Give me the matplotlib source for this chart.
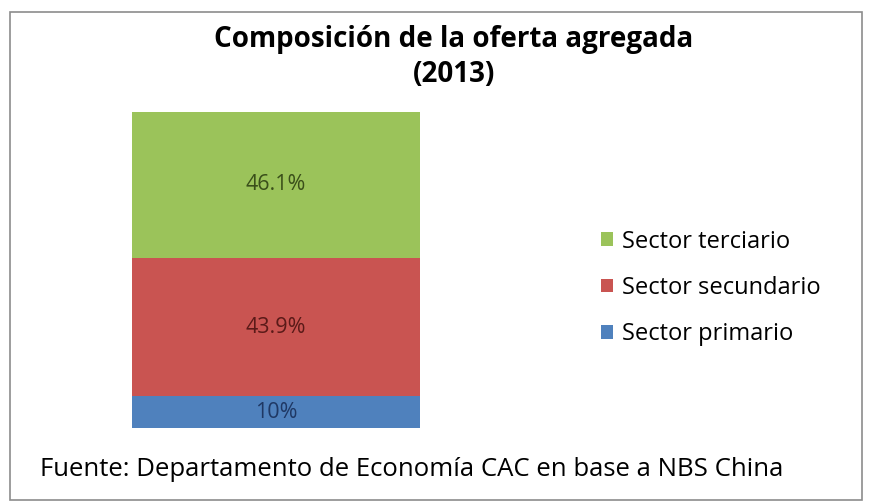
import matplotlib
matplotlib.use("Agg")
import matplotlib.pyplot as plt
from matplotlib.patches import Rectangle

# data, bottom to top
sectors = ["Sector primario", "Sector secundario", "Sector terciario"]
shares = [10.0, 43.9, 46.1]
labels = ["10%", "43.9%", "46.1%"]
colors = ["#4F81BD", "#C95451", "#9BC35A"]
label_colors = ["#1F3864", "#5A1A18", "#3A4F1A"]

plt.rcParams['font.family'] = ['Open Sans', 'DejaVu Sans']

fig = plt.figure(figsize=(8.73, 5.04), dpi=100)
fig.patch.set_facecolor("white")

# outer frame
fig.patches.append(Rectangle((10 / 873, 4 / 504), 852 / 873, 488 / 504,
                             transform=fig.transFigure, fill=False,
                             edgecolor="#8c8c8c", linewidth=1.2))

ax = fig.add_axes([132 / 873, 76 / 504, 288 / 873, 316 / 504])
bottom = 0
handles = []
for name, val, lab, col, lc in zip(sectors, shares, labels, colors, label_colors):
    b = ax.bar(0, val, width=1.0, bottom=bottom, color=col, edgecolor="none", label=name)
    handles.append(b)
    ax.text(0, bottom + val / 2, lab, ha="center", va="center",
            fontsize=15.5, color=lc)
    bottom += val
ax.set_xlim(-0.5, 0.5)
ax.set_ylim(0, sum(shares))
ax.axis("off")

fig.text(454 / 873, 1 - 40 / 504, "Composición de la oferta agregada",
         ha="center", va="center", fontsize=20, fontweight="bold")
fig.text(454 / 873, 1 - 75 / 504, "(2013)",
         ha="center", va="center", fontsize=20, fontweight="bold")

leg = fig.legend(handles[::-1], sectors[::-1], loc="center left",
                 bbox_to_anchor=(592 / 873, 1 - 288 / 504), frameon=False,
                 fontsize=17, handlelength=0.5, handleheight=0.5,
                 handletextpad=0.35, labelspacing=0.95, borderaxespad=0)

fig.text(40 / 873, 1 - 469 / 504,
         "Fuente: Departamento de Economía CAC en base a NBS China",
         ha="left", va="center", fontsize=18.5)

fig.savefig("out.png", dpi=100)
